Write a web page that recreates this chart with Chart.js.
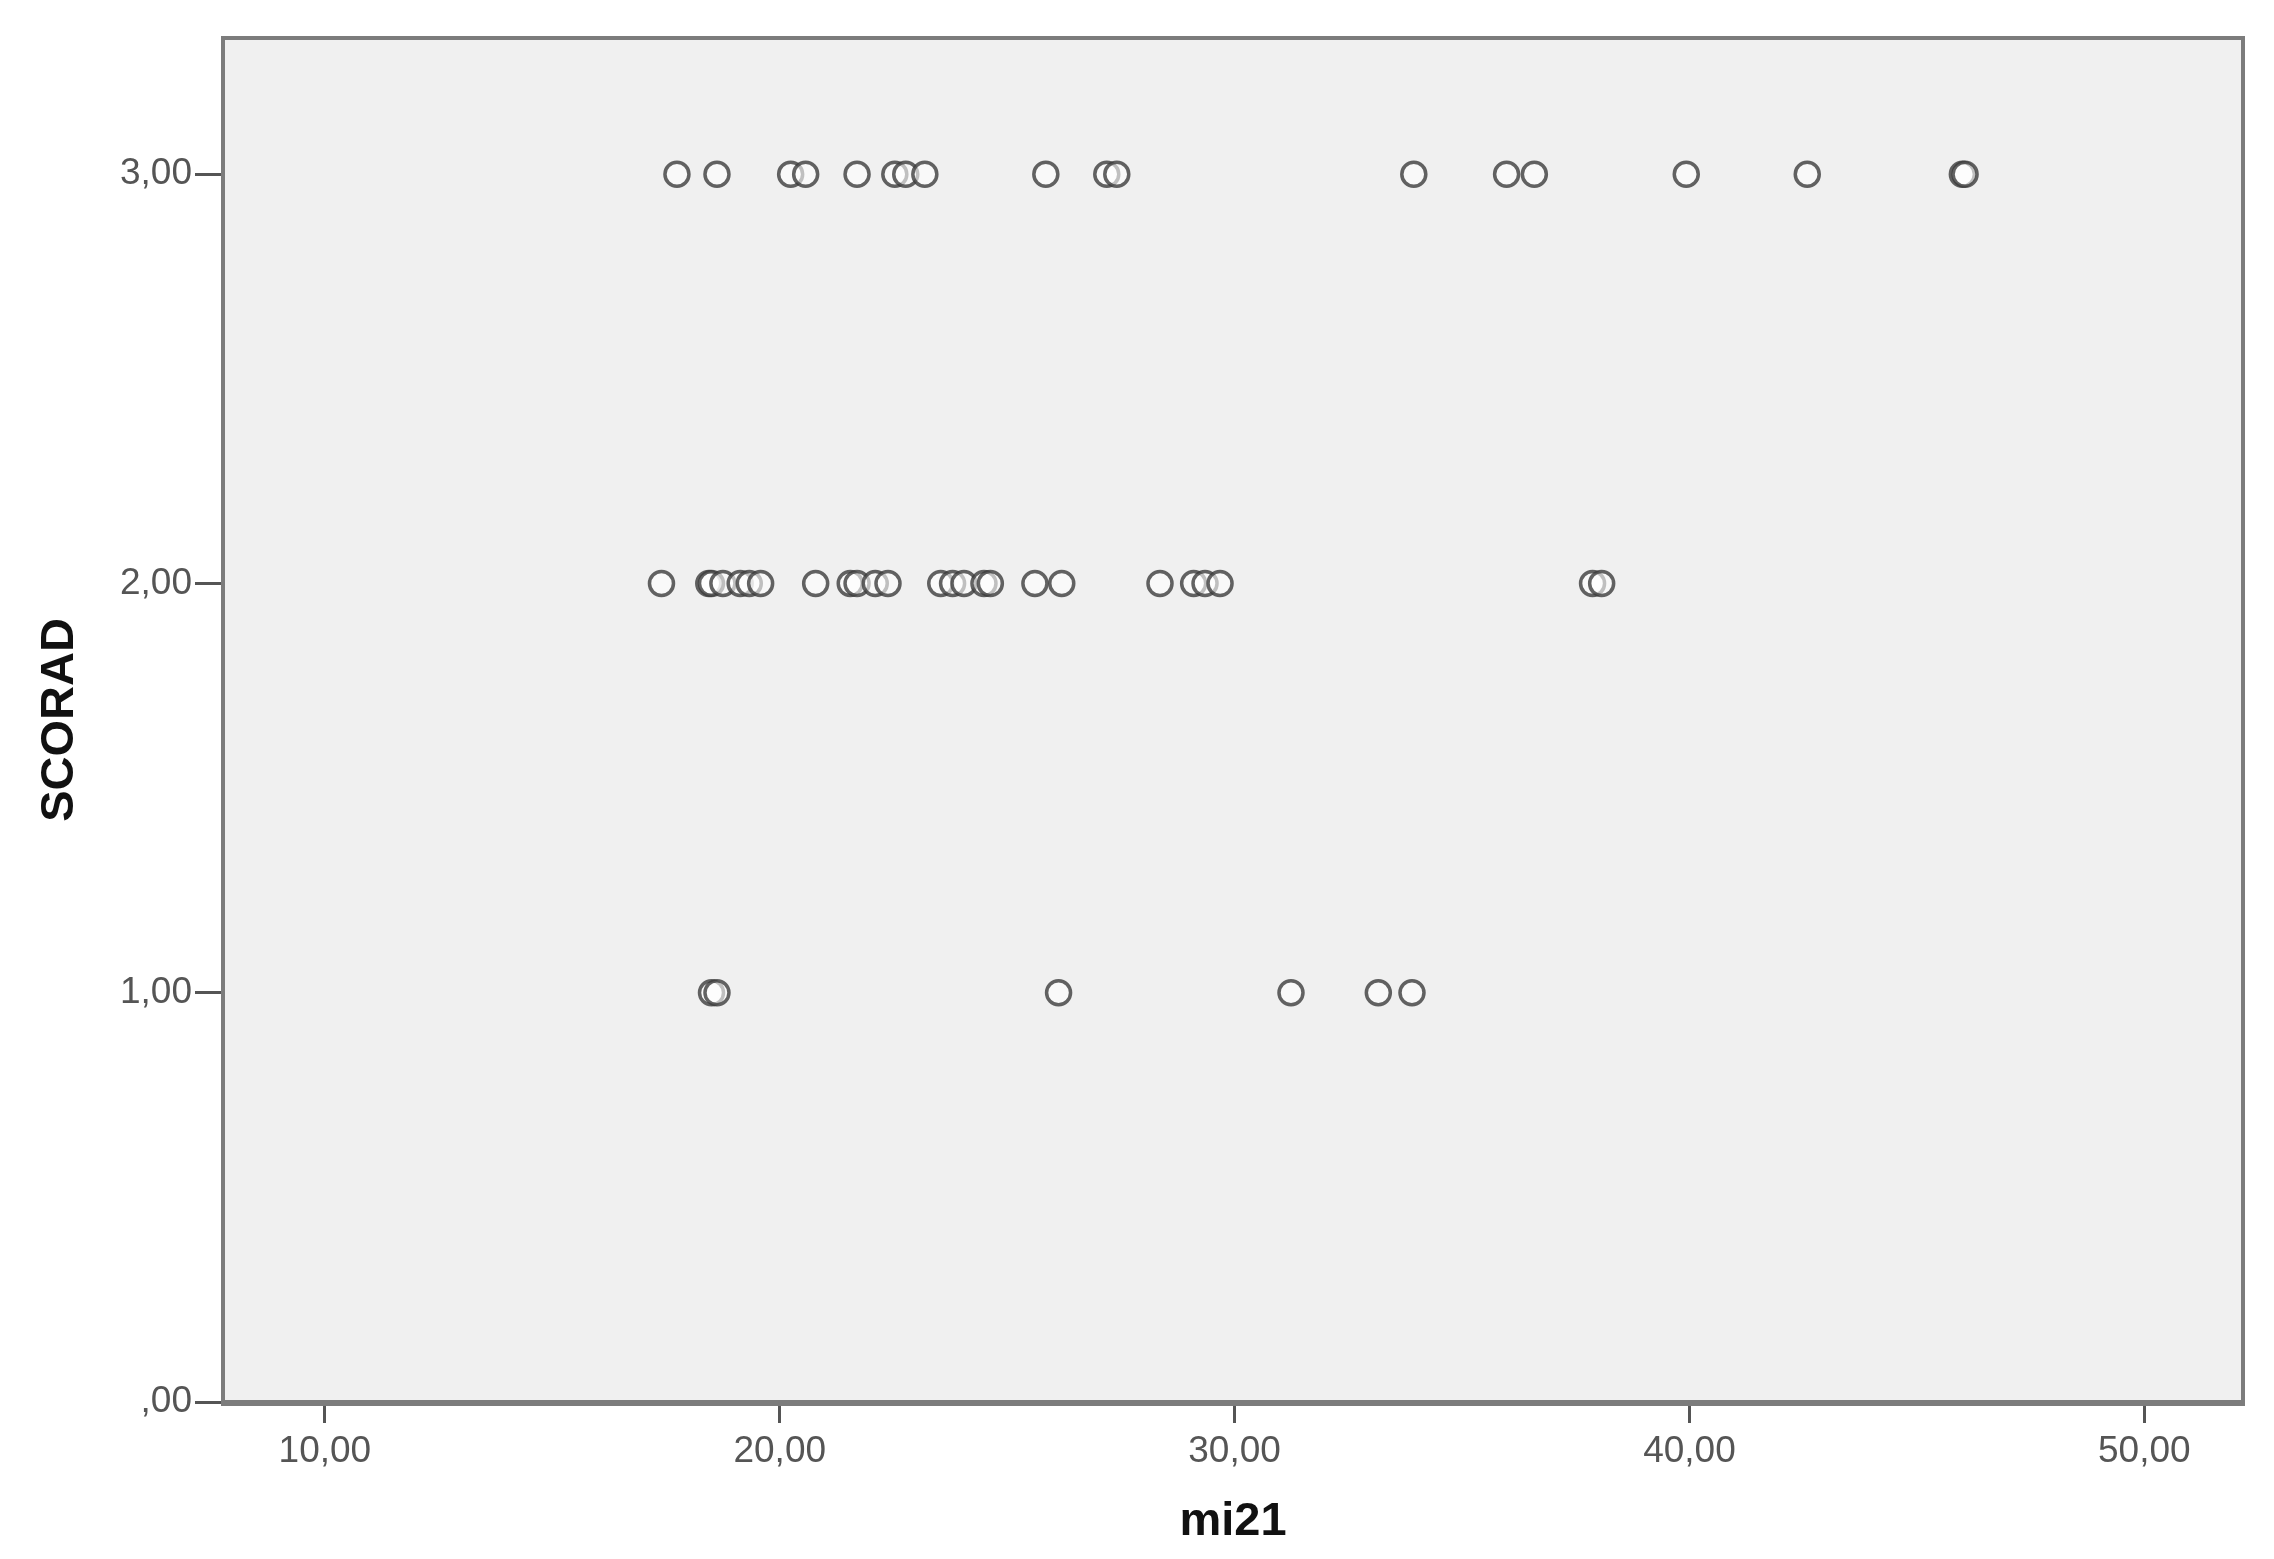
<!DOCTYPE html>
<html>
<head>
<meta charset="utf-8">
<script src="https://cdn.jsdelivr.net/npm/chart.js@4"></script>
<style>
  html, body { margin: 0; padding: 0; background: #fff; }
  canvas { display: block; }
</style>
</head>
<body>
<canvas id="chart" width="2274" height="1559"></canvas>
<script>
const xTicks = [10, 20, 30, 40, 50];
const yTicks = [0, 1, 2, 3];

// mi21 values for each SCORAD level
const mi21Scorad3 = [17.74, 18.62, 20.24, 20.57, 21.70, 22.53, 22.77, 23.19, 25.85, 27.19, 27.41, 33.94, 35.98, 36.59, 39.93, 42.59, 46.00, 46.06];
const mi21Scorad2 = [17.40, 18.44, 18.50, 18.75, 19.13, 19.33, 19.58, 20.79, 21.55, 21.70, 22.10, 22.38, 23.54, 23.80, 24.05, 24.49, 24.63, 25.61, 26.20, 28.36, 29.10, 29.35, 29.68, 37.87, 38.07];
const mi21Scorad1 = [18.50, 18.62, 26.13, 31.24, 33.16, 33.90];

const points = [
  ...mi21Scorad3.map(v => ({ x: v, y: 3 })),
  ...mi21Scorad2.map(v => ({ x: v, y: 2 })),
  ...mi21Scorad1.map(v => ({ x: v, y: 1 }))
];

function spssLabel(v) {
  const s = v.toFixed(2).replace(".", ",");
  return s.startsWith("0,") ? s.slice(1) : s;
}

const plotFrame = {
  id: "plotFrame",
  beforeDraw(chart) {
    const { ctx, chartArea: a } = chart;
    ctx.save();
    ctx.fillStyle = "#f0f0f0";
    ctx.fillRect(a.left, a.top, a.right - a.left, a.bottom - a.top);
    ctx.restore();
  },
  afterDraw(chart) {
    const { ctx, chartArea: a } = chart;
    ctx.save();
    ctx.strokeStyle = "#7c7c7c";
    ctx.lineWidth = 4;
    ctx.strokeRect(a.left, a.top, a.right - a.left, a.bottom - a.top);
    ctx.lineWidth = 6;
    ctx.beginPath();
    ctx.moveTo(a.left - 2, a.bottom + 1);
    ctx.lineTo(a.right + 2, a.bottom + 1);
    ctx.stroke();
    ctx.restore();
  }
};

const tickFont = { family: "'Liberation Sans', Arial, sans-serif", size: 37 };
const titleFont = { family: "'Liberation Sans', Arial, sans-serif", size: 47, weight: "bold", lineHeight: 1 };

new Chart(document.getElementById("chart"), {
  type: "scatter",
  data: {
    datasets: [{
      data: points,
      pointRadius: 12,
      pointBorderWidth: 3.5,
      pointBorderColor: "rgba(60,60,60,0.8)",
      pointBackgroundColor: "rgba(255,255,255,0.6)",
      showLine: false
    }]
  },
  options: {
    responsive: false,
    animation: false,
    devicePixelRatio: 1,
    layout: { padding: { top: 38, right: 31, left: 0, bottom: 0 } },
    plugins: { legend: { display: false }, tooltip: { enabled: false } },
    scales: {
      x: {
        type: "linear",
        min: 7.76,
        max: 52.17,
        afterBuildTicks: s => { s.ticks = xTicks.map(v => ({ value: v })); },
        afterFit: s => { s.height = 157; },
        grid: { drawOnChartArea: false, drawTicks: true, tickLength: 21, tickWidth: 3, tickColor: "#555" },
        border: { display: false },
        ticks: { font: tickFont, color: "#555", padding: 7, maxRotation: 0, autoSkip: false, callback: v => spssLabel(v) },
        title: { display: true, text: "mi21", font: titleFont, color: "#111", padding: { top: 0, bottom: 13 } }
      },
      y: {
        type: "linear",
        min: 0,
        max: 3.333,
        afterBuildTicks: s => { s.ticks = yTicks.map(v => ({ value: v })); },
        afterFit: s => { s.width = 223; },
        grid: { drawOnChartArea: false, drawTicks: true, tickLength: 28, tickWidth: 3, tickColor: "#555" },
        border: { display: false },
        ticks: { font: tickFont, color: "#555", padding: 3, autoSkip: false, callback: v => spssLabel(v) },
        title: { display: true, text: "SCORAD", font: titleFont, color: "#111", padding: { top: 37, bottom: 0 } }
      }
    }
  },
  plugins: [plotFrame]
});
</script>
</body>
</html>
